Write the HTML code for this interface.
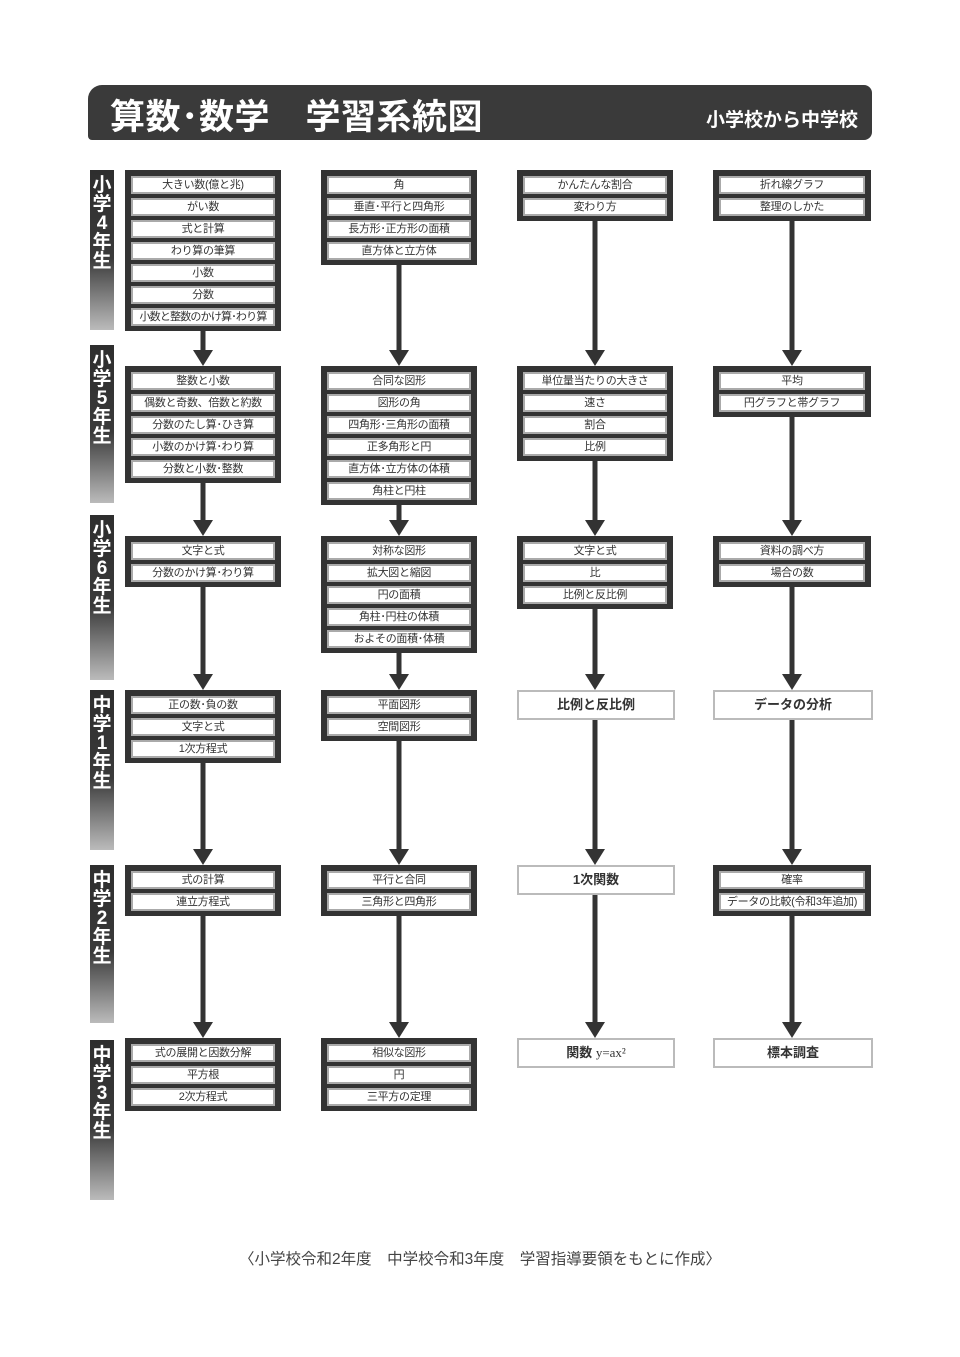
<!DOCTYPE html>
<html><head><meta charset="utf-8"><style>
body{margin:0;width:960px;height:1357px;background:#fff;position:relative;overflow:hidden;font-family:"Liberation Sans","Noto Sans CJK JP",sans-serif;}
.hdr{position:absolute;left:88px;top:85px;width:784px;height:55px;background:#3a3a3a;border-radius:14px 8px 8px 4px;color:#fff;}
.hdr .t{position:absolute;left:22px;top:4px;font-size:35px;font-weight:bold;letter-spacing:0.5px;white-space:pre;}
.hdr .s{position:absolute;right:14px;top:20px;font-size:19px;font-weight:bold;}
.g{position:absolute;left:90px;width:24px;background:linear-gradient(#2e2e2e 0%,#3a3a3a 55%,#bbb 100%);color:#fff;font-weight:bold;font-size:19px;line-height:19px;text-align:center;padding-top:6px;box-sizing:border-box;}
.b{position:absolute;background:#333;padding:6px 6px 5px 6px;box-sizing:border-box;}
.i{height:18px;margin-bottom:4px;background:#fff;border:2px solid #aaa;box-sizing:border-box;font-size:11px;line-height:14px;text-align:center;color:#333;white-space:nowrap;letter-spacing:-0.3px;overflow:hidden;}
.i:last-child{margin-bottom:0}
.p{position:absolute;height:30px;background:#fff;border:2px solid #bbb;box-sizing:border-box;font-size:13px;line-height:26px;text-align:center;color:#333;font-weight:bold;}
.f{position:absolute;top:1247px;left:0;width:960px;text-align:center;font-size:15.5px;color:#444;}
</style></head><body>
<div class="hdr"><div class="t">算数･数学　学習系統図</div><div class="s">小学校から中学校</div></div>

<div class="g" style="top:170px;height:160px">小<br>学<br>4<br>年<br>生</div>
<div class="g" style="top:345px;height:158px">小<br>学<br>5<br>年<br>生</div>
<div class="g" style="top:515px;height:165px">小<br>学<br>6<br>年<br>生</div>
<div class="g" style="top:690px;height:160px">中<br>学<br>1<br>年<br>生</div>
<div class="g" style="top:865px;height:158px">中<br>学<br>2<br>年<br>生</div>
<div class="g" style="top:1040px;height:160px">中<br>学<br>3<br>年<br>生</div>

<svg width="960" height="1357" style="position:absolute;left:0;top:0" fill="#333" stroke="#333">
<g stroke-width="5">
<line x1="203" y1="330" x2="203" y2="352"/><line x1="203" y1="483" x2="203" y2="522"/><line x1="203" y1="587" x2="203" y2="676"/><line x1="203" y1="763" x2="203" y2="851"/><line x1="203" y1="916" x2="203" y2="1024"/>
<line x1="399" y1="265" x2="399" y2="352"/><line x1="399" y1="505" x2="399" y2="522"/><line x1="399" y1="653" x2="399" y2="676"/><line x1="399" y1="741" x2="399" y2="851"/><line x1="399" y1="916" x2="399" y2="1024"/>
<line x1="595" y1="221" x2="595" y2="352"/><line x1="595" y1="461" x2="595" y2="522"/><line x1="595" y1="609" x2="595" y2="676"/><line x1="595" y1="720" x2="595" y2="851"/><line x1="595" y1="895" x2="595" y2="1024"/>
<line x1="792" y1="221" x2="792" y2="352"/><line x1="792" y1="417" x2="792" y2="522"/><line x1="792" y1="587" x2="792" y2="676"/><line x1="792" y1="720" x2="792" y2="851"/><line x1="792" y1="916" x2="792" y2="1024"/>
</g>
<g stroke="none">
<polygon points="193,350 213,350 203,366"/><polygon points="193,520 213,520 203,536"/><polygon points="193,674 213,674 203,690"/><polygon points="193,849 213,849 203,865"/><polygon points="193,1022 213,1022 203,1038"/>
<polygon points="389,350 409,350 399,366"/><polygon points="389,520 409,520 399,536"/><polygon points="389,674 409,674 399,690"/><polygon points="389,849 409,849 399,865"/><polygon points="389,1022 409,1022 399,1038"/>
<polygon points="585,350 605,350 595,366"/><polygon points="585,520 605,520 595,536"/><polygon points="585,674 605,674 595,690"/><polygon points="585,849 605,849 595,865"/><polygon points="585,1022 605,1022 595,1038"/>
<polygon points="782,350 802,350 792,366"/><polygon points="782,520 802,520 792,536"/><polygon points="782,674 802,674 792,690"/><polygon points="782,849 802,849 792,865"/><polygon points="782,1022 802,1022 792,1038"/>
</g>
</svg>

<div class="b" style="left:125px;top:170px;width:156px"><div class="i">大きい数(億と兆)</div><div class="i">がい数</div><div class="i">式と計算</div><div class="i">わり算の筆算</div><div class="i">小数</div><div class="i">分数</div><div class="i" style="letter-spacing:-0.8px">小数と整数のかけ算･わり算</div></div>
<div class="b" style="left:321px;top:170px;width:156px"><div class="i">角</div><div class="i">垂直･平行と四角形</div><div class="i">長方形･正方形の面積</div><div class="i">直方体と立方体</div></div>
<div class="b" style="left:517px;top:170px;width:156px"><div class="i">かんたんな割合</div><div class="i">変わり方</div></div>
<div class="b" style="left:713px;top:170px;width:158px"><div class="i">折れ線グラフ</div><div class="i">整理のしかた</div></div>

<div class="b" style="left:125px;top:366px;width:156px"><div class="i">整数と小数</div><div class="i">偶数と奇数、倍数と約数</div><div class="i">分数のたし算･ひき算</div><div class="i">小数のかけ算･わり算</div><div class="i">分数と小数･整数</div></div>
<div class="b" style="left:321px;top:366px;width:156px"><div class="i">合同な図形</div><div class="i">図形の角</div><div class="i">四角形･三角形の面積</div><div class="i">正多角形と円</div><div class="i">直方体･立方体の体積</div><div class="i">角柱と円柱</div></div>
<div class="b" style="left:517px;top:366px;width:156px"><div class="i">単位量当たりの大きさ</div><div class="i">速さ</div><div class="i">割合</div><div class="i">比例</div></div>
<div class="b" style="left:713px;top:366px;width:158px"><div class="i">平均</div><div class="i">円グラフと帯グラフ</div></div>

<div class="b" style="left:125px;top:536px;width:156px"><div class="i">文字と式</div><div class="i">分数のかけ算･わり算</div></div>
<div class="b" style="left:321px;top:536px;width:156px"><div class="i">対称な図形</div><div class="i">拡大図と縮図</div><div class="i">円の面積</div><div class="i">角柱･円柱の体積</div><div class="i">およその面積･体積</div></div>
<div class="b" style="left:517px;top:536px;width:156px"><div class="i">文字と式</div><div class="i">比</div><div class="i">比例と反比例</div></div>
<div class="b" style="left:713px;top:536px;width:158px"><div class="i">資料の調べ方</div><div class="i">場合の数</div></div>

<div class="b" style="left:125px;top:690px;width:156px"><div class="i">正の数･負の数</div><div class="i">文字と式</div><div class="i">1次方程式</div></div>
<div class="b" style="left:321px;top:690px;width:156px"><div class="i">平面図形</div><div class="i">空間図形</div></div>
<div class="p" style="left:517px;top:690px;width:158px">比例と反比例</div>
<div class="p" style="left:713px;top:690px;width:160px">データの分析</div>

<div class="b" style="left:125px;top:865px;width:156px"><div class="i">式の計算</div><div class="i">連立方程式</div></div>
<div class="b" style="left:321px;top:865px;width:156px"><div class="i">平行と合同</div><div class="i">三角形と四角形</div></div>
<div class="p" style="left:517px;top:865px;width:158px">1次関数</div>
<div class="b" style="left:713px;top:865px;width:158px"><div class="i">確率</div><div class="i">データの比較(令和3年追加)</div></div>

<div class="b" style="left:125px;top:1038px;width:156px"><div class="i">式の展開と因数分解</div><div class="i">平方根</div><div class="i">2次方程式</div></div>
<div class="b" style="left:321px;top:1038px;width:156px"><div class="i">相似な図形</div><div class="i">円</div><div class="i">三平方の定理</div></div>
<div class="p" style="left:517px;top:1038px;width:158px">関数 <span style="font-family:'Liberation Serif',serif;font-weight:normal">y=ax²</span></div>
<div class="p" style="left:713px;top:1038px;width:160px">標本調査</div>

<div class="f">〈小学校令和2年度　中学校令和3年度　学習指導要領をもとに作成〉</div>
</body></html>
